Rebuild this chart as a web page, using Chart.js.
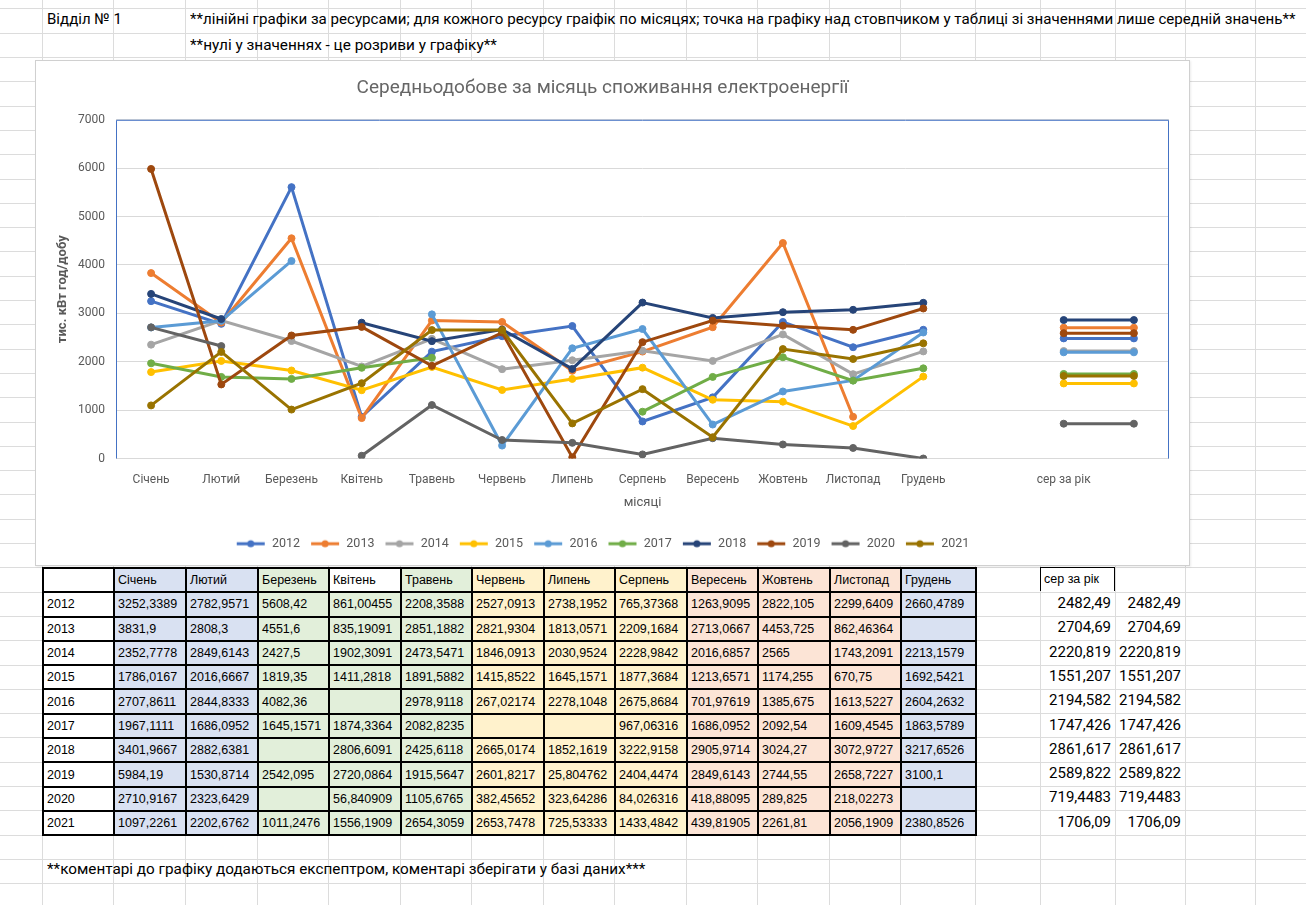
<!DOCTYPE html>
<html>
<head>
<meta charset="utf-8">
<script src="https://cdn.jsdelivr.net/npm/chart.js@4.4.1/dist/chart.umd.min.js"></script>
<style>
html, body { margin: 0; padding: 0; background: #fff; }
body { width: 1306px; height: 905px; position: relative; overflow: hidden; font-family: Roboto, "Noto Sans", sans-serif; }
.gl { position: absolute; background: #dcdcdc; }
.note { position: absolute; white-space: nowrap; font-size: 15px; color: #000; transform-origin: left center; line-height: 24px; height: 24px; }
#chartBox { position: absolute; left: 35px; top: 60px; width: 1155px; height: 506px; background: #fff; border: 1px solid #d0d0d0; box-sizing: border-box; box-shadow: 1px 1px 2px rgba(0,0,0,0.08); }
#chartBox canvas { position: absolute; left: 0; top: 0; }
#tbl { position: absolute; left: 42px; top: 567px; border-collapse: collapse; table-layout: fixed; font-family: "Liberation Sans Narrow", "Liberation Sans", Arial, sans-serif; font-size: 12.5px; }
#tbl tr { height: 24.3px; }
#tbl td { border: 2px solid #000; padding: 0 0 0 3px; white-space: nowrap; overflow: hidden; }
.avg { position: absolute; font-size: 15px; text-align: right; white-space: nowrap; line-height: 24px; }
#avgHead { position: absolute; left: 1040px; top: 567px; width: 75px; height: 24px; box-sizing: border-box; border: 1px solid #000; border-bottom: none; font-family: "Liberation Sans Narrow", "Liberation Sans", Arial, sans-serif; font-size: 12.5px; line-height: 22px; padding-left: 3px; background: #fff; }
</style>
</head>
<body>
<div id="grid"></div>
<div class="note" id="n1" style="left:47px;top:7px;">Відділ № 1</div>
<div class="note" id="n2" style="left:190px;top:7px;">**лінійні графіки за ресурсами; для кожного ресурсу граіфік по місяцях; точка на графіку над стовпчиком у таблиці зі значеннями лише середній значень**</div>
<div class="note" id="n3" style="left:190px;top:33px;">**нулі у значеннях - це розриви у графіку**</div>
<div id="chartBox"><canvas id="chart" width="1153" height="504"></canvas></div>
<table id="tbl"></table>
<div id="avgHead">сер за рік</div>
<div class="note" id="n4" style="left:47px;top:857px;">**коментарі до графіку додаються експептром, коментарі зберігати у базі даних***</div>

<script>
const months = ['Січень', 'Лютий', 'Березень', 'Квітень', 'Травень', 'Червень', 'Липень', 'Серпень', 'Вересень', 'Жовтень', 'Листопад', 'Грудень'];
const avgLabel = 'сер за рік';
const years = ['2012', '2013', '2014', '2015', '2016', '2017', '2018', '2019', '2020', '2021'];

const v2012 = [3252.3389, 2782.9571, 5608.42, 861.00455, 2208.3588, 2527.0913, 2738.1952, 765.37368, 1263.9095, 2822.105, 2299.6409, 2660.4789];
const v2013 = [3831.9, 2808.3, 4551.6, 835.19091, 2851.1882, 2821.9304, 1813.0571, 2209.1684, 2713.0667, 4453.725, 862.46364, null];
const v2014 = [2352.7778, 2849.6143, 2427.5, 1902.3091, 2473.5471, 1846.0913, 2030.9524, 2228.9842, 2016.6857, 2565, 1743.2091, 2213.1579];
const v2015 = [1786.0167, 2016.6667, 1819.35, 1411.2818, 1891.5882, 1415.8522, 1645.1571, 1877.3684, 1213.6571, 1174.255, 670.75, 1692.5421];
const v2016 = [2707.8611, 2844.8333, 4082.36, null, 2978.9118, 267.02174, 2278.1048, 2675.8684, 701.97619, 1385.675, 1613.5227, 2604.2632];
const v2017 = [1967.1111, 1686.0952, 1645.1571, 1874.3364, 2082.8235, null, null, 967.06316, 1686.0952, 2092.54, 1609.4545, 1863.5789];
const v2018 = [3401.9667, 2882.6381, null, 2806.6091, 2425.6118, 2665.0174, 1852.1619, 3222.9158, 2905.9714, 3024.27, 3072.9727, 3217.6526];
const v2019 = [5984.19, 1530.8714, 2542.095, 2720.0864, 1915.5647, 2601.8217, 25.804762, 2404.4474, 2849.6143, 2744.55, 2658.7227, 3100.1];
const v2020 = [2710.9167, 2323.6429, null, 56.840909, 1105.6765, 382.45652, 323.64286, 84.026316, 418.88095, 289.825, 218.02273, 0];
const v2021 = [1097.2261, 2202.6762, 1011.2476, 1556.1909, 2654.3059, 2653.7478, 725.53333, 1433.4842, 439.81905, 2261.81, 2056.1909, 2380.8526];
const yearAvg = [2482.49, 2704.69, 2220.819, 1551.207, 2194.582, 1747.426, 2861.617, 2589.822, 719.4483, 1706.09];

const rows = [v2012, v2013, v2014, v2015, v2016, v2017, v2018, v2019, v2020, v2021];
const colors = ['#4472C4', '#ED7D31', '#A5A5A5', '#FFC000', '#5B9BD5', '#70AD47', '#264478', '#9E480E', '#636363', '#997300'];

// spreadsheet grid
const colLines = [42, 113, 185, 257, 328, 400, 471, 543, 614, 686, 757, 829, 900, 975, 1040, 1115, 1185, 1255];
const grid = document.getElementById('grid');
colLines.forEach(x => {
    const d = document.createElement('div');
    d.className = 'gl';
    d.style.cssText = `left:${x}px;top:0;width:1px;height:905px;`;
    grid.appendChild(d);
});
for (let k = 0; k < 38; k++) {
    const d = document.createElement('div');
    d.className = 'gl';
    d.style.cssText = `left:0;top:${Math.round(8.4 + 24.3 * k)}px;width:1306px;height:1px;`;
    grid.appendChild(d);
}

function fit(id, w) {
    const el = document.getElementById(id);
    el.style.transform = `scaleX(${w / el.scrollWidth})`;
}
fit('n2', 1105);
fit('n3', 307);
fit('n4', 598);

// table
const fmt = v => (v === null || v === 0) ? '' : String(v).replace('.', ',');
const colBg = ['#D9E1F2', '#D9E1F2', '#E2EFDA', '#E2EFDA', '#E2EFDA', '#FFF2CC', '#FFF2CC', '#FFF2CC', '#FCE4D6', '#FCE4D6', '#FCE4D6', '#D9E1F2'];
const tbl = document.getElementById('tbl');
let html = '<colgroup>';
for (let i = 0; i < 14 - 1; i++) html += `<col style="width:${colLines[i + 1] - colLines[i]}px">`;
html += '</colgroup><tr><td style="background:#fff"></td>';
months.forEach((m, i) => {
    const bg = i === 3 ? '#fff' : colBg[i];
    html += `<td style="background:${bg}">${m}</td>`;
});
html += '</tr>';
rows.forEach((r, j) => {
    html += `<tr><td style="background:#fff">${years[j]}</td>`;
    r.forEach((v, i) => { html += `<td style="background:${colBg[i]}">${fmt(v)}</td>`; });
    html += '</tr>';
});
tbl.innerHTML = html;

yearAvg.forEach((a, j) => {
    [1040, 1115].forEach((x, c) => {
        const d = document.createElement('div');
        d.className = 'avg';
        d.style.cssText = `left:${x}px;width:${(c ? 1185 : 1115) - x - 4}px;top:${Math.round(591 + 24.3 * j)}px;`;
        d.textContent = fmt(a);
        document.body.appendChild(d);
    });
});

// chart
function legendMarker(color) {
    const c = document.createElement('canvas');
    c.width = 30; c.height = 10;
    const g = c.getContext('2d');
    g.strokeStyle = color; g.lineWidth = 3;
    g.beginPath(); g.moveTo(1, 5); g.lineTo(29, 5); g.stroke();
    g.fillStyle = color;
    g.beginPath(); g.arc(15, 5, 3.5, 0, Math.PI * 2); g.fill();
    return c;
}

const labels = [...months, '', avgLabel, ''];
const datasets = years.map((y, i) => ({
    label: y,
    data: [...rows[i], null, yearAvg[i], yearAvg[i]],
    borderColor: colors[i],
    backgroundColor: colors[i],
    pointBackgroundColor: colors[i],
    pointBorderColor: colors[i],
    borderWidth: 3,
    pointRadius: 3.5,
    pointBorderWidth: 1,
    tension: 0,
    spanGaps: false,
    order: years.length - i
}));

const plotBorder = {
    id: 'plotBorder',
    beforeDatasetsDraw(chart) {
        const { ctx, chartArea: a } = chart;
        ctx.save();
        ctx.strokeStyle = '#4472C4';
        ctx.lineWidth = 1;
        ctx.beginPath();
        ctx.moveTo(a.left + 0.5, a.bottom);
        ctx.lineTo(a.left + 0.5, a.top + 0.5);
        ctx.lineTo(a.right - 0.5, a.top + 0.5);
        ctx.lineTo(a.right - 0.5, a.bottom);
        ctx.stroke();
        ctx.restore();
    }
};

const font = 'Roboto, "Noto Sans", sans-serif';
new Chart(document.getElementById('chart'), {
    type: 'line',
    data: { labels, datasets },
    plugins: [plotBorder],
    options: {
        responsive: false,
        animation: false,
        layout: { padding: { left: 0, right: 20, top: 0, bottom: 5 } },
        plugins: {
            title: { display: true, text: 'Середньодобове за місяць споживання електроенергії', color: '#666666', font: { family: font, size: 19, weight: 'normal' }, padding: { top: 16, bottom: 20 } },
            legend: {
                position: 'bottom',
                labels: {
                    usePointStyle: true, pointStyleWidth: 30, boxHeight: 12, color: '#595959', font: { family: font, size: 12.5 }, padding: 10,
                    sort: (a, b) => a.datasetIndex - b.datasetIndex,
                    generateLabels: chart => Chart.defaults.plugins.legend.labels.generateLabels(chart).map(it => ({ ...it, pointStyle: legendMarker(colors[it.datasetIndex]) }))
                }
            },
            tooltip: { enabled: false }
        },
        scales: {
            x: {
                offset: true,
                grid: { display: false, drawTicks: false },
                border: { display: false },
                ticks: { color: '#595959', font: { family: font, size: 12 }, padding: 14, autoSkip: false, maxRotation: 0 },
                title: { display: true, text: 'місяці', color: '#595959', font: { family: font, size: 13 }, padding: { top: 4, bottom: 17 } },
                afterFit: s => { s.height = 69; }
            },
            y: {
                min: 0, max: 7000,
                ticks: { stepSize: 1000, color: '#595959', font: { family: font, size: 12 }, padding: 11, callback: v => String(v) },
                grid: { color: '#d9d9d9', drawTicks: false },
                border: { display: false },
                title: { display: true, text: 'тис. кВт год/добу', color: '#595959', font: { family: font, size: 13, weight: 'bold' }, padding: { top: 19, bottom: 0 } },
                afterFit: s => { s.width = 80; }
            }
        }
    }
});
</script>
</body>
</html>
